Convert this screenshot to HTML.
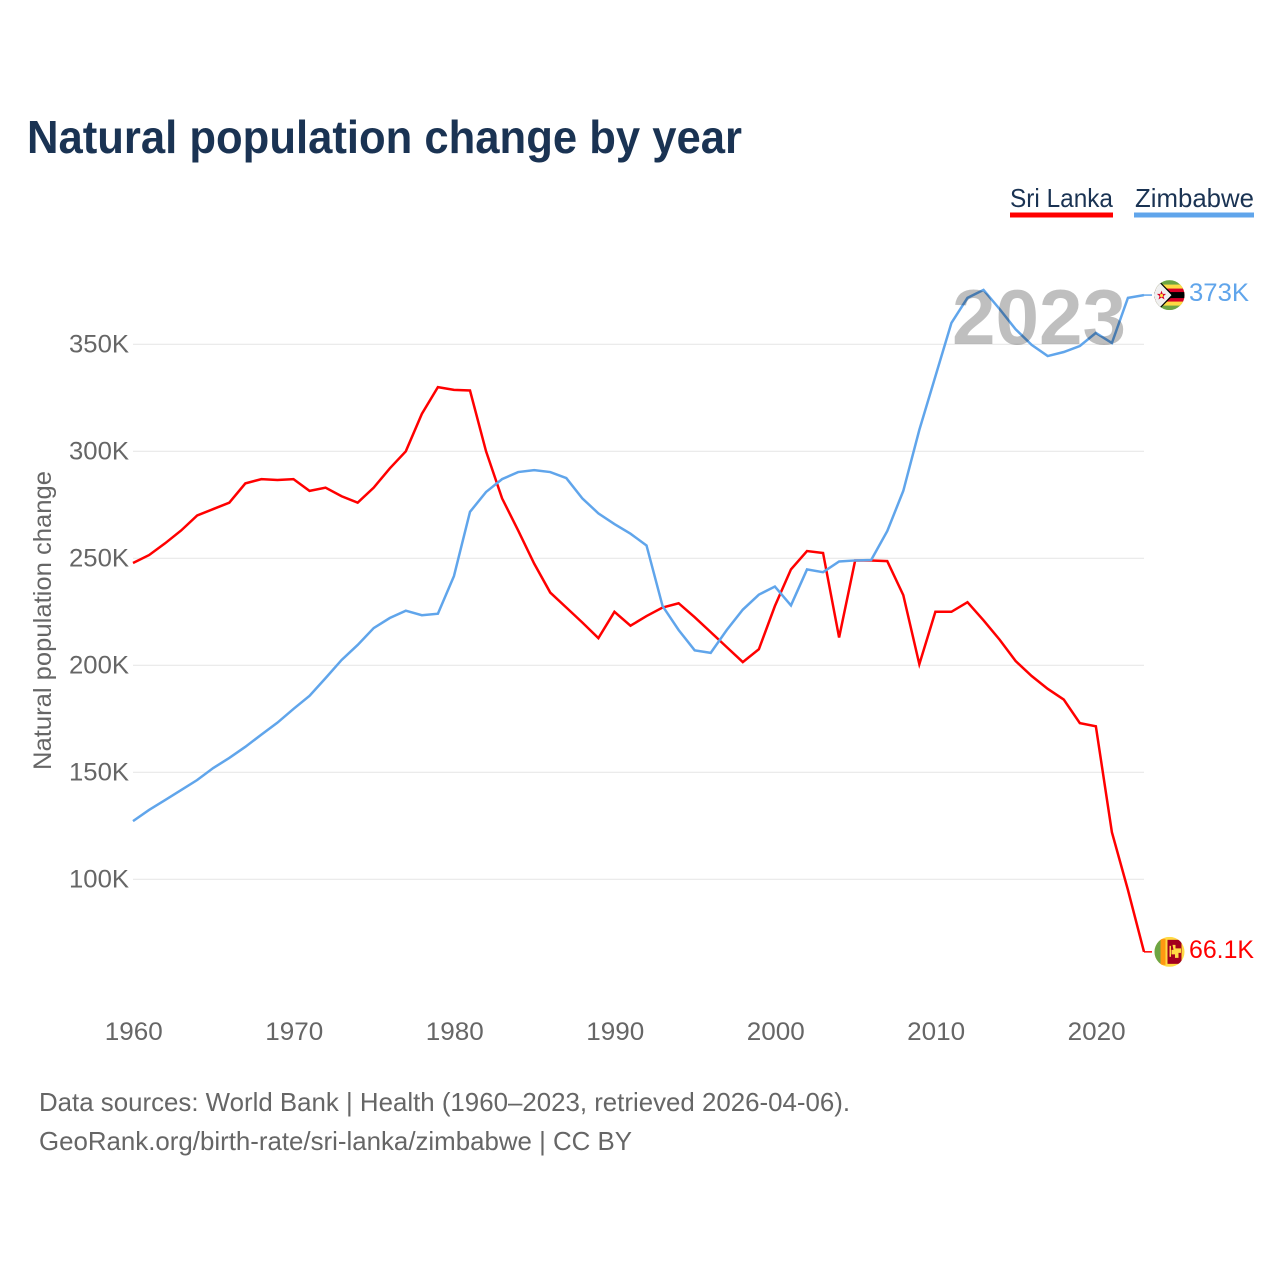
<!DOCTYPE html>
<html lang="en">
<head>
<meta charset="utf-8">
<title>Natural population change by year</title>
<style>
  html, body { margin: 0; padding: 0; background: #fff; }
  #chart { display: block; width: 1280px; height: 1280px; font-family: "Liberation Sans", Arial, sans-serif; }
</style>
</head>
<body>
<svg id="chart" xmlns="http://www.w3.org/2000/svg" width="1280" height="1280" viewBox="0 0 1280 1280">
  <defs>
    <clipPath id="flag-clip"><circle cx="0" cy="0" r="15"></circle></clipPath>
  </defs>
  <rect x="0" y="0" width="1280" height="1280" fill="#ffffff"></rect>
  <text x="27" y="153" font-size="46" font-weight="700" fill="#1a3353" textLength="715" lengthAdjust="spacingAndGlyphs">Natural population change by year</text>

  <g>
    <g>
      <text x="1010" y="207" font-size="26" fill="#1a3353" textLength="103" lengthAdjust="spacingAndGlyphs">Sri Lanka</text>
      <rect x="1010" y="212.5" width="103" height="5" fill="#ff0000"></rect>
    </g>
    <g>
      <text x="1135" y="207" font-size="26" fill="#1a3353" textLength="119" lengthAdjust="spacingAndGlyphs">Zimbabwe</text>
      <rect x="1134" y="212.5" width="120" height="5" fill="#60a5eb"></rect>
    </g>
  </g>

  <text transform="translate(51 770) rotate(-90)" x="0" y="0" font-size="25" fill="#666666" textLength="299" lengthAdjust="spacingAndGlyphs">Natural population change</text>

  <g id="grid-layer"></g>
  <g id="y-tick-layer"></g>
  <g id="x-tick-layer"></g>
  <g id="series-layer"></g>

  <text x="952" y="344" font-size="78" font-weight="700" fill="rgba(0,0,0,0.25)" textLength="174" lengthAdjust="spacingAndGlyphs">2023</text>

  <g id="flag-zimbabwe">
    <g clip-path="url(#flag-clip)">
      <rect x="-15" y="-15" width="30" height="30" fill="#6da544"></rect>
      <rect x="-15" y="-10.5" width="30" height="21" fill="#ffda44"></rect>
      <rect x="-15" y="-6.5" width="30" height="13" fill="#d80027"></rect>
      <rect x="-15" y="-3" width="30" height="6" fill="#000000"></rect>
      <polygon points="-15,-15 -11,-15 4,0 -11,15 -15,15" fill="#000000"></polygon>
      <polygon points="-15,-14 -11.5,-14 2,0 -11.5,14 -15,14" fill="#f0f0f0"></polygon>
      <polygon points="-8,-4.5 -6.8,-1.2 -3.4,-1.2 -6,1 -5,4.4 -8,2.4 -11,4.4 -10,1 -12.6,-1.2 -9.2,-1.2" fill="#d80027"></polygon>
      <circle cx="-8" cy="0.4" r="1.6" fill="#ffda44"></circle>
    </g>
  </g>

  <g id="flag-sri-lanka">
    <g clip-path="url(#flag-clip)">
      <rect x="-15" y="-15" width="30" height="30" fill="#ffda44"></rect>
      <rect x="-15" y="-15" width="6" height="30" fill="#6da544"></rect>
      <rect x="-9" y="-13" width="5" height="26" fill="#ff9811"></rect>
      <rect x="-2" y="-12" width="14" height="24" fill="#a2001d"></rect>
      <rect x="0" y="-6" width="1.5" height="11" fill="#ffda44"></rect>
      <polygon points="3,-7 6,-7 6,-3.5 11.5,-3.5 11.5,1 9,1 9,6 5.5,6 5.5,2.5 2,2.5 2,-2 4,-2" fill="#ffda44"></polygon>
    </g>
  </g>

  <g id="end-label-layer"></g>

  <g>
    <text x="39" y="1111" font-size="26" fill="#666666" textLength="811" lengthAdjust="spacingAndGlyphs">Data sources: World Bank | Health (1960–2023, retrieved 2026-04-06).</text>
    <text x="39" y="1150" font-size="26" fill="#666666" textLength="593" lengthAdjust="spacingAndGlyphs">GeoRank.org/birth-rate/sri-lanka/zimbabwe | CC BY</text>
  </g>
</svg>

<script>
const years = [1960,1961,1962,1963,1964,1965,1966,1967,1968,1969,1970,1971,1972,1973,1974,1975,1976,1977,1978,1979,1980,1981,1982,1983,1984,1985,1986,1987,1988,1989,1990,1991,1992,1993,1994,1995,1996,1997,1998,1999,2000,2001,2002,2003,2004,2005,2006,2007,2008,2009,2010,2011,2012,2013,2014,2015,2016,2017,2018,2019,2020,2021,2022,2023];
const sriLankaValues = [247.8,251.5,257,263,270,273,276,285,287,286.6,287,281.5,283,279,276,283,292,300,317.5,330,328.7,328.4,300,278,263,247.5,234,227,220,212.7,225,218.5,223,227,229,222.5,215.5,208.5,201.5,207.5,227.7,244.8,253.4,252.5,213,249,249,248.7,232.8,200.5,225,225,229.5,221,212,202,195,189,184,173,171.5,122,95,66.1];
const zimbabweValues = [127.2,132.4,137,141.7,146.4,152,156.7,161.9,167.6,173.2,179.6,185.7,194,202.5,209.5,217.4,222.1,225.5,223.4,224.1,241.7,271.7,281,287,290.3,291.2,290.3,287.5,278,271,266,261.5,256,227.7,216.5,207,205.8,216.5,226,233,236.8,228,244.8,243.5,248.5,249,249.2,262.7,281.5,310,335,360,371.7,375.4,366.5,357,349.7,344.5,346.4,349.2,355.3,350.6,371.7,373];
const yTickValues = [100,150,200,250,300,350];
const yTickLabels = ["100K","150K","200K","250K","300K","350K"];
const xTickYears = [1960,1970,1980,1990,2000,2010,2020];
const xTickLabels = ["1960","1970","1980","1990","2000","2010","2020"];
const sriLankaEndLabel = "66.1K";
const zimbabweEndLabel = "373K";

const SVG_NS = "http://www.w3.org/2000/svg";
const RED = "#ff0000";
const BLUE = "#60a5eb";

function xScale(year) {
  return 133 + (year - 1960) * (1144 - 133) / (2023 - 1960);
}
function yScale(value) {
  return 344.3 + (350 - value) * 2.14;
}
function make(tag, attrs, parent, text) {
  const el = document.createElementNS(SVG_NS, tag);
  Object.keys(attrs).forEach(function (k) { el.setAttribute(k, attrs[k]); });
  if (text !== undefined) el.textContent = text;
  parent.appendChild(el);
  return el;
}
function linePath(values) {
  return values.map(function (v, i) {
    return (i ? "L" : "M") + xScale(years[i]).toFixed(2) + " " + yScale(v).toFixed(2);
  }).join(" ");
}

const gridLayer = document.getElementById("grid-layer");
const yTickLayer = document.getElementById("y-tick-layer");
const xTickLayer = document.getElementById("x-tick-layer");
const seriesLayer = document.getElementById("series-layer");
const endLabelLayer = document.getElementById("end-label-layer");

yTickValues.forEach(function (v, i) {
  const gridline = make("line", { x1: 133, x2: 1144, y1: yScale(v), y2: yScale(v), stroke: "#e8e8e8", "stroke-width": 1.2 }, gridLayer);
  
  
  const label = make("text", { x: 129, y: yScale(v) + 8, "font-size": 25, fill: "#666666", "text-anchor": "end", textLength: 60, lengthAdjust: "spacingAndGlyphs" }, yTickLayer, yTickLabels[i]);
  
  
});

xTickYears.forEach(function (year, i) {
  const label = make("text", { x: xScale(year) + 0.8, y: 1040, "font-size": 25, fill: "#666666", "text-anchor": "middle", textLength: 58, lengthAdjust: "spacingAndGlyphs" }, xTickLayer, xTickLabels[i]);
  
  
});

const redLine = make("path", { d: linePath(sriLankaValues), fill: "none", stroke: RED, "stroke-width": 2.5, "stroke-linejoin": "miter" }, seriesLayer);


const blueLine = make("path", { d: linePath(zimbabweValues), fill: "none", stroke: BLUE, "stroke-width": 2.5, "stroke-linejoin": "miter" }, seriesLayer);



const lastYear = years[years.length - 1];
const redEndY = yScale(sriLankaValues[sriLankaValues.length - 1]);
const blueEndY = yScale(zimbabweValues[zimbabweValues.length - 1]);

const redStub = make("line", { x1: xScale(lastYear), x2: xScale(lastYear) + 8, y1: redEndY, y2: redEndY, stroke: RED, "stroke-width": 1.5 }, seriesLayer);


const blueStub = make("line", { x1: xScale(lastYear), x2: xScale(lastYear) + 8, y1: blueEndY, y2: blueEndY, stroke: BLUE, "stroke-width": 1.5 }, seriesLayer);



document.getElementById("flag-sri-lanka").setAttribute("transform", "translate(" + (xScale(lastYear) + 25.5) + " " + redEndY + ")");
document.getElementById("flag-zimbabwe").setAttribute("transform", "translate(" + (xScale(lastYear) + 25.5) + " " + blueEndY + ")");

const redEnd = make("text", { x: 1189, y: redEndY + 6, "font-size": 25, fill: RED, textLength: 65, lengthAdjust: "spacingAndGlyphs" }, endLabelLayer, sriLankaEndLabel);


const blueEnd = make("text", { x: 1189, y: blueEndY + 6, "font-size": 25, fill: BLUE, textLength: 60, lengthAdjust: "spacingAndGlyphs" }, endLabelLayer, zimbabweEndLabel);


</script>
</body>
</html>
